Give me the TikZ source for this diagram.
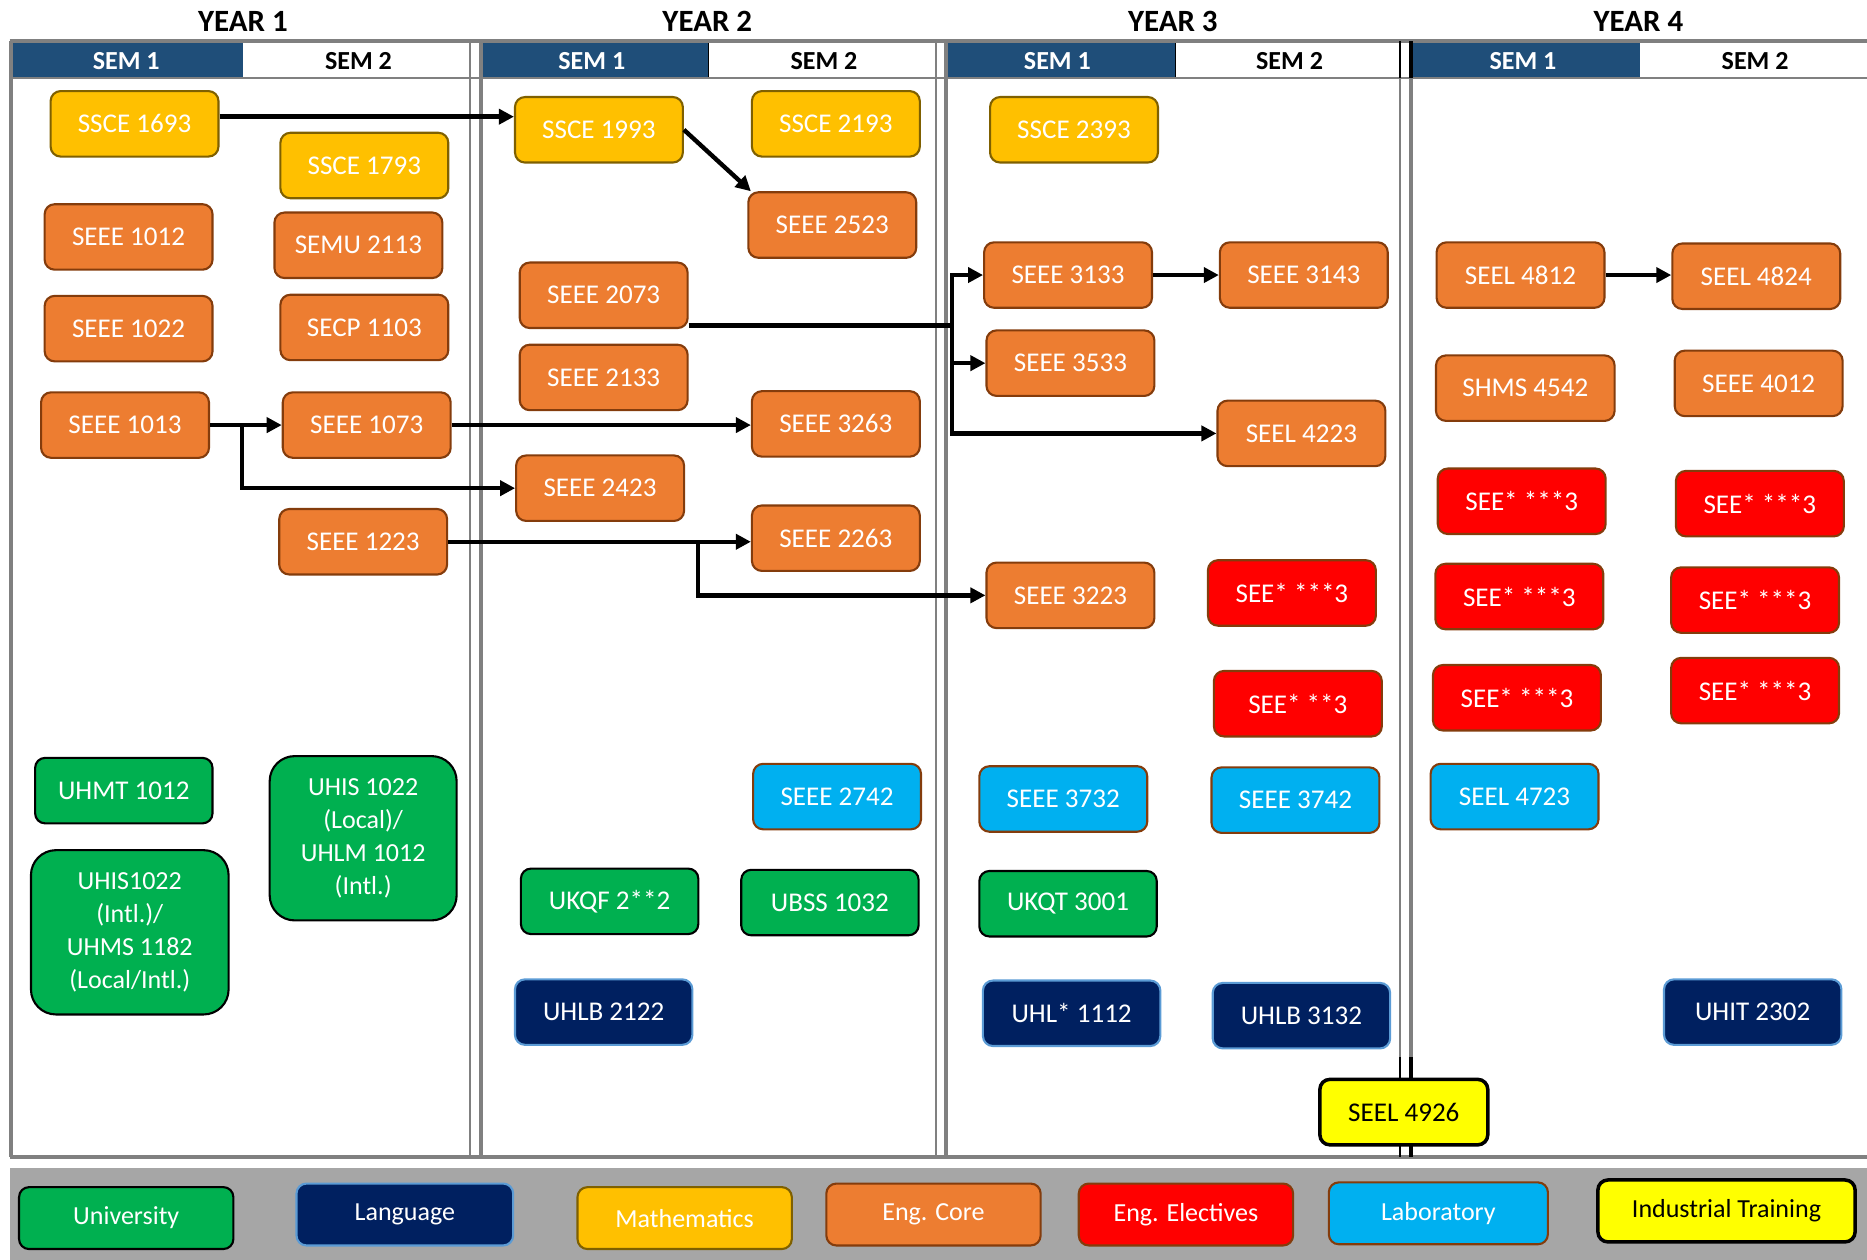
\documentclass[tikz,border=0pt]{standalone}
\usepackage{fontspec}
\setmainfont{Carlito}
\usetikzlibrary{arrows.meta, calc}

\newcommand{\pxu}{0.011907cm}
\newcommand{\boxfont}{\fontsize{7.7}{9.4}\selectfont}
\newcommand{\keyfont}{\fontsize{7.4}{9.4}\selectfont}

\definecolor{semblue}{HTML}{1F4E79}
\definecolor{gridgray}{HTML}{808080}
\definecolor{legendgray}{HTML}{A6A6A6}
\definecolor{mathfill}{HTML}{FFC000}
\definecolor{mathline}{HTML}{7F6000}
\definecolor{corefill}{HTML}{ED7D31}
\definecolor{coreline}{HTML}{843C0C}
\definecolor{elecfill}{HTML}{FF0000}
\definecolor{labfill}{HTML}{00B0F0}
\definecolor{unifill}{HTML}{00B050}
\definecolor{langfill}{HTML}{002060}
\definecolor{langline}{HTML}{5B9BD5}
\definecolor{indfill}{HTML}{FFFF00}

\begin{document}
\begin{tikzpicture}[
    x=\pxu, y=-\pxu,
    >={Triangle[length=1.5mm, width=1.5mm]},
    course/.style   = {rounded corners=0.1cm, line width=0.6pt, minimum width=141*\pxu,
                       minimum height=55*\pxu, inner sep=0pt, text=white, font=\boxfont, align=center},
    mathbox/.style  = {course, fill=mathfill, draw=mathline},
    corebox/.style  = {course, fill=corefill, draw=coreline},
    elecbox/.style  = {course, fill=elecfill, draw=coreline},
    labbox/.style   = {course, fill=labfill, draw=coreline},
    unibox/.style   = {course, fill=unifill, draw=black, minimum width=149*\pxu},
    bigunibox/.style= {unibox, rounded corners=0.25cm, minimum height=138*\pxu, font=\keyfont},
    langbox/.style  = {course, fill=langfill, draw=langline, minimum width=149*\pxu},
    indbox/.style   = {course, fill=indfill, draw=black, text=black, line width=1pt},
    keybox/.style   = {minimum width=180*\pxu, minimum height=52*\pxu, font=\keyfont},
    arr/.style      = {->, line width=1.25pt},
    wire/.style     = {line width=1.25pt},
    yearlbl/.style  = {font=\fontsize{8.8}{10}\selectfont\bfseries},
    semlbl/.style   = {font=\fontsize{7.4}{9}\selectfont\bfseries}
  ]
  \useasboundingbox (0,0) rectangle (1568,1058);

  % --- legend band ---
  \fill[legendgray] (8,981) rectangle (1568,1058);

  % --- semester header cells ---
  \foreach \xa/\xm in {10/204, 406/595, 796/987, 1187/1377}
    \fill[semblue] (\xa,36) rectangle (\xm,65.5);
  \draw[black, line width=0.4pt] (595,36) -- (595,65.5);
  \draw[black, line width=0.4pt] (987,36) -- (987,65.5);

  \foreach \yr/\xa/\xb in {1/106/301, 2/497/692, 3/888/1083, 4/1279/1474} {
    \node[semlbl, text=white] (semA\yr) at (\xa,51) {SEM 1};
    \node[semlbl] (semB\yr) at (\xb,51) {SEM 2};
  }
  \foreach \yr/\xc in {1/204, 2/594, 3/985, 4/1376}
    \node[yearlbl] (year\yr) at (\xc,18) {YEAR \yr};

  % --- frame lines ---
  \draw[gridgray, line width=0.9pt] (8,34.5) -- (1568,34.5);
  \draw[gridgray, line width=0.5pt] (8,65.5) -- (1568,65.5);
  \draw[gridgray, line width=1.1pt] (8,971.5) -- (1568,971.5);
  \draw[gridgray, line width=1.1pt] (9.5,34.5) -- (9.5,971.5);
  \foreach \xt/\xk in {394.7/404, 785.7/794.5} {
    \draw[gridgray, line width=0.55pt] (\xt,34.5) -- (\xt,971.5);
    \draw[gridgray, line width=1.1pt] (\xk,34.5) -- (\xk,971.5);
  }
  \draw[gridgray, line width=0.55pt] (1175.8,65.5) -- (1175.8,888);
  \draw[gridgray, line width=1.1pt] (1185,65.5) -- (1185,888);
  \draw[black, line width=0.55pt] (1175.8,34.5) -- (1175.8,65.5) (1175.8,888) -- (1175.8,971.5);
  \draw[black, line width=1.1pt] (1185,34.5) -- (1185,65.5) (1185,888) -- (1185,971.5);

  % --- year 1 ---
  \node[mathbox] (ssce1693) at (113,104) {SSCE 1693};
  \node[mathbox] (ssce1793) at (306,139) {SSCE 1793};
  \node[corebox] (seee1012) at (108,199) {SEEE 1012};
  \node[corebox] (semu2113) at (301,206) {SEMU 2113};
  \node[corebox] (seee1022) at (108,276) {SEEE 1022};
  \node[corebox] (secp1103) at (306,275) {SECP 1103};
  \node[corebox] (seee1013) at (105,357) {SEEE 1013};
  \node[corebox] (seee1073) at (308,357) {SEEE 1073};
  \node[corebox] (seee1223) at (305,455) {SEEE 1223};
  \node[unibox] (uhmt1012) at (104,664) {UHMT 1012};
  \node[bigunibox, minimum width=157*\pxu] (uhis1022) at (305,704) {UHIS 1022\\(Local)/\\UHLM 1012\\(Intl.)};
  \node[bigunibox, minimum width=166*\pxu] (uhis1022i) at (109,783) {UHIS1022\\(Intl.)/\\UHMS 1182\\(Local/Intl.)};

  % --- year 2 ---
  \node[mathbox] (ssce1993) at (503,109) {SSCE 1993};
  \node[mathbox] (ssce2193) at (702,104) {SSCE 2193};
  \node[corebox] (seee2523) at (699,189) {SEEE 2523};
  \node[corebox] (seee2073) at (507,248) {SEEE 2073};
  \node[corebox] (seee2133) at (507,317) {SEEE 2133};
  \node[corebox] (seee3263) at (702,356) {SEEE 3263};
  \node[corebox] (seee2423) at (504,410) {SEEE 2423};
  \node[corebox] (seee2263) at (702,452) {SEEE 2263};
  \node[labbox] (seee2742) at (703,669) {SEEE 2742};
  \node[unibox] (ukqf2x2) at (512,757) {UKQF 2**2};
  \node[unibox] (ubss1032) at (697,758) {UBSS 1032};
  \node[langbox] (uhlb2122) at (507,850) {UHLB 2122};

  % --- year 3 ---
  \node[mathbox] (ssce2393) at (902,109) {SSCE 2393};
  \node[corebox] (seee3133) at (897,231) {SEEE 3133};
  \node[corebox] (seee3143) at (1095,231) {SEEE 3143};
  \node[corebox] (seee3533) at (899,305) {SEEE 3533};
  \node[corebox] (seel4223) at (1093,364) {SEEL 4223};
  \node[corebox] (seee3223) at (899,500) {SEEE 3223};
  \node[elecbox] (elecA) at (1085,498) {SEE* ***3};
  \node[elecbox] (elecB) at (1090,591) {SEE* **3};
  \node[labbox] (seee3732) at (893,671) {SEEE 3732};
  \node[labbox] (seee3742) at (1088,672) {SEEE 3742};
  \node[unibox] (ukqt3001) at (897,759) {UKQT 3001};
  \node[langbox] (uhlx1112) at (900,851) {UHL* 1112};
  \node[langbox] (uhlb3132) at (1093,853) {UHLB 3132};
  \node[indbox] (seel4926) at (1179,934) {SEEL 4926};

  % --- year 4 ---
  \node[corebox] (seel4812) at (1277,231) {SEEL 4812};
  \node[corebox] (seel4824) at (1475,232) {SEEL 4824};
  \node[corebox, minimum width=150*\pxu] (shms4542) at (1281,326) {SHMS 4542};
  \node[corebox] (seee4012) at (1477,322) {SEEE 4012};
  \node[elecbox] (elecC) at (1278,421) {SEE* ***3};
  \node[elecbox] (elecD) at (1478,423) {SEE* ***3};
  \node[elecbox] (elecE) at (1276,501) {SEE* ***3};
  \node[elecbox] (elecF) at (1474,504) {SEE* ***3};
  \node[elecbox] (elecG) at (1274,586) {SEE* ***3};
  \node[elecbox] (elecH) at (1474,580) {SEE* ***3};
  \node[labbox] (seel4723) at (1272,669) {SEEL 4723};
  \node[langbox] (uhit2302) at (1472,850) {UHIT 2302};

  % --- prerequisite arrows ---
  \path ([shift={(0,-6)}]ssce1693.east) coordinate (m1693);
  \draw[arr] (m1693) -- (m1693 -| ssce1993.west);
  \draw[arr] (ssce1993.east) -- ([shift={(3,0)}]seee2523.north west);

  \coordinate (hubA) at ($(seee1013.east)!0.45!(seee1073.west)$);
  \draw[arr] (seee1013.east) -- (seee1073.west);
  \draw[arr] (hubA) |- (seee2423.west);
  \draw[arr] (seee1073.east) -- (seee1073.east -| seee3263.west);

  \coordinate (hubB) at ($(seee1223.east)!0.826!(seee1223.east -| seee2263.west)$);
  \draw[arr] (seee1223.east) -- (seee1223.east -| seee2263.west);
  \draw[arr] (hubB) |- (seee3223.west);

  \path ([shift={(0,-3)}]seee2073.south east) coordinate (m2073);
  \coordinate (hubC) at ($(m2073 -| seee3133.west)+(-26,0)$);
  \draw[wire] (m2073) -- (hubC);
  \draw[arr] (hubC) |- (seee3133.west);
  \draw[arr] (hubC) |- (seee3533.west);
  \draw[arr] (hubC) |- (seel4223.west);
  \draw[arr] (seee3133.east) -- (seee3143.west);
  \draw[arr] (seel4812.east) -- (seel4812.east -| seel4824.west);

  % --- legend ---
  \node[unibox, keybox] (keyUni) at (106,1023) {University};
  \node[langbox, keybox, minimum width=182*\pxu] (keyLang) at (340,1020) {Language};
  \node[mathbox, keybox] (keyMath) at (575,1023) {Mathematics};
  \node[corebox, keybox] (keyCore) at (784,1020) {Eng. Core};
  \node[elecbox, keybox] (keyElec) at (996,1020) {Eng. Electives};
  \node[labbox, keybox, minimum width=184*\pxu] (keyLab) at (1208,1019) {Laboratory};
  \node[indbox, keybox, minimum width=216*\pxu] (keyInd) at (1450,1017) {Industrial Training};

\end{tikzpicture}
\end{document}
